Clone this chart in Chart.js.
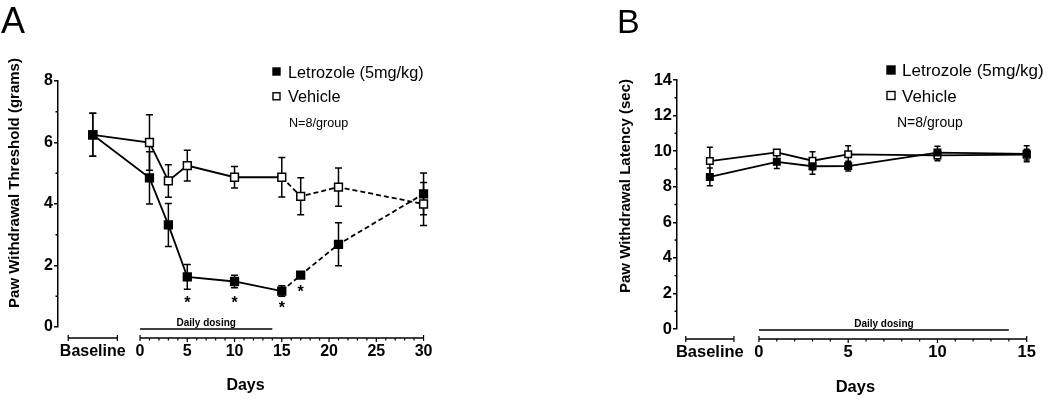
<!DOCTYPE html>
<html><head><meta charset="utf-8">
<script src="https://cdn.jsdelivr.net/npm/chart.js@4.4.1/dist/chart.umd.min.js"></script>
<style>
html,body{margin:0;padding:0;background:#fff;}
#wrap{position:relative;width:1050px;height:402px;overflow:hidden;background:#fff;}
canvas{position:absolute;top:0;}
#ca{left:0;} #cb{left:525px;}
</style></head><body>
<div id="wrap"><canvas id="ca" width="525" height="402"></canvas><canvas id="cb" width="525" height="402"></canvas></div>
<script>
const FONT = '"Liberation Sans", Arial, Helvetica, sans-serif';

// ---------- Panel A: Paw withdrawal threshold ----------
const baselinePosA = -5;              // axis position used for the "Baseline" point
const baselineSpanA = [-7.6, -2.4];   // extent of the baseline bar (axis units)
const daysA = [1, 3, 5, 10, 15, 17, 21, 30];
const letrozoleA    = [6.25, 4.85, 3.32, 1.63, 1.48, 1.17, 1.69, 2.69, 4.33];
const letrozoleErrA = [0.70, 0.85, 0.70, 0.40, 0.20, 0.17, 0.05, 0.70, 0.68];
const vehicleA      = [6.25, 6.00, 4.75, 5.25, 4.87, 4.87, 4.25, 4.55, 4.00];
const vehicleErrA   = [0.70, 0.90, 0.53, 0.50, 0.35, 0.64, 0.60, 0.62, 0.70];
const sigDaysA = [5, 10, 15, 17];
const sigYA    = [0.91, 0.91, 0.73, 1.24];
const dashedFromA = 15;
const xTicksA = [0, 5, 10, 15, 20, 25, 30];
const yTicksA = [0, 2, 4, 6, 8];
const yMinorA = [1, 3, 5, 7];

// ---------- Panel B: Paw withdrawal latency ----------
const baselinePosB = -2.75;
const baselineSpanB = [-4.1, -1.4];
const daysB = [1, 3, 5, 10, 15];
const letrozoleB    = [8.55, 9.40, 9.15, 9.16, 9.92, 9.85];
const letrozoleErrB = [0.50, 0.37, 0.45, 0.27, 0.35, 0.45];
const vehicleB      = [9.44, 9.93, 9.46, 9.82, 9.76, 9.80];
const vehicleErrB   = [0.78, 0.10, 0.50, 0.48, 0.30, 0.30];
const xTicksB = [0, 5, 10, 15];
const yTicksB = [0, 2, 4, 6, 8, 10, 12, 14];
const yMinorB = [1, 3, 5, 7, 9, 11, 13];

const dosingDays = [0, 14];
const seriesNames = ['Letrozole (5mg/kg)', 'Vehicle'];
const groupNote = 'N=8/group';

function centerText(ctx, text, x, cy, align) {
  ctx.textAlign = align || 'left';
  ctx.textBaseline = 'alphabetic';
  const m = ctx.measureText('H');
  ctx.fillText(text, x, cy + m.actualBoundingBoxAscent / 2);
}

const decor = {
  id: 'decor',
  beforeDatasetsDraw(chart, args, o) {
    const ctx = chart.ctx, xs = chart.scales.x, ys = chart.scales.y;
    ctx.save();
    ctx.strokeStyle = '#000';
    ctx.lineWidth = o.errWidth;
    chart.data.datasets.forEach(ds => {
      ds.data.forEach((p, i) => {
        const e = ds.errors[i];
        const px = xs.getPixelForValue(p.x);
        const y1 = ys.getPixelForValue(p.y + e), y2 = ys.getPixelForValue(p.y - e);
        ctx.beginPath();
        ctx.moveTo(px, y1); ctx.lineTo(px, y2);
        ctx.moveTo(px - o.cap, y1); ctx.lineTo(px + o.cap, y1);
        ctx.moveTo(px - o.cap, y2); ctx.lineTo(px + o.cap, y2);
        ctx.stroke();
      });
    });
    ctx.restore();
  },
  afterDraw(chart, args, o) {
    const ctx = chart.ctx, xs = chart.scales.x, ys = chart.scales.y, a = chart.chartArea;
    ctx.save();
    ctx.strokeStyle = '#000'; ctx.fillStyle = '#000';
    ctx.lineWidth = 1.5;
    // minor y ticks
    o.yMinor.forEach(v => {
      const py = ys.getPixelForValue(v);
      ctx.beginPath(); ctx.moveTo(a.left - 2.5, py); ctx.lineTo(a.left, py); ctx.stroke();
    });
    // day axis
    const y0 = a.bottom + o.axisOffset;
    const d0 = o.xTicks[0], d1 = o.xTicks[o.xTicks.length - 1];
    const p0 = xs.getPixelForValue(d0), p1 = xs.getPixelForValue(d1);
    ctx.beginPath(); ctx.moveTo(p0, y0); ctx.lineTo(p1, y0); ctx.stroke();
    ctx.lineWidth = 1.2;
    for (let d = d0; d <= d1; d++) {
      const px = xs.getPixelForValue(d);
      ctx.beginPath();
      if (d === d0 || d === d1) { ctx.moveTo(px, y0 - 3); ctx.lineTo(px, y0 + 3); }
      else if (d % 5 === 0) { ctx.moveTo(px, y0); ctx.lineTo(px, y0 + 4); }
      else { ctx.moveTo(px, y0); ctx.lineTo(px, y0 + 2.5); }
      ctx.stroke();
    }
    // baseline bar
    ctx.lineWidth = 1.5;
    const b0 = xs.getPixelForValue(o.baseSpan[0]), b1 = xs.getPixelForValue(o.baseSpan[1]);
    ctx.beginPath(); ctx.moveTo(b0, y0); ctx.lineTo(b1, y0); ctx.stroke();
    ctx.lineWidth = 1.2;
    ctx.beginPath();
    ctx.moveTo(b0, y0 - 3); ctx.lineTo(b0, y0 + 3);
    ctx.moveTo(b1, y0 - 3); ctx.lineTo(b1, y0 + 3);
    ctx.stroke();
    // daily dosing bar
    ctx.lineWidth = 1.5;
    const s0 = xs.getPixelForValue(dosingDays[0]), s1 = xs.getPixelForValue(dosingDays[1]);
    const yd = a.bottom + o.doseOffset;
    ctx.beginPath(); ctx.moveTo(s0, yd); ctx.lineTo(s1, yd); ctx.stroke();
    ctx.font = 'bold 10px ' + FONT;
    centerText(ctx, 'Daily dosing', (s0 + s1) / 2, a.bottom + o.doseTextOffset, 'center');
    // significance asterisks
    if (o.sigDays) {
      ctx.font = 'bold 16px ' + FONT;
      ctx.textAlign = 'center'; ctx.textBaseline = 'alphabetic';
      const m = ctx.measureText('*');
      const off = (m.actualBoundingBoxAscent - m.actualBoundingBoxDescent) / 2;
      o.sigDays.forEach((d, i) => {
        ctx.fillText('*', xs.getPixelForValue(d), ys.getPixelForValue(o.sigY[i]) + off);
      });
    }
    // legend
    const L = o.legend;
    chart.data.datasets.forEach((ds, i) => {
      const cy = L.y + i * L.dy;
      const s = L.size;
      ctx.lineWidth = 1.4;
      ctx.fillStyle = ds.pointBackgroundColor;
      ctx.fillRect(L.mx - s / 2, cy - s / 2, s, s);
      ctx.strokeRect(L.mx - s / 2, cy - s / 2, s, s);
      ctx.fillStyle = '#000';
      ctx.font = L.font + 'px ' + FONT;
      centerText(ctx, ds.label, L.tx, cy, 'left');
    });
    ctx.font = L.nFont + 'px ' + FONT;
    centerText(ctx, groupNote, L.nx, L.ny, 'left');
    // y title (rotated)
    ctx.save();
    ctx.translate(o.yTitle.x, o.yTitle.y);
    ctx.rotate(-Math.PI / 2);
    ctx.font = 'bold ' + o.yTitle.size + 'px ' + FONT;
    ctx.textAlign = 'center'; ctx.textBaseline = 'alphabetic';
    ctx.fillText(o.yTitle.text, 0, 0);
    ctx.restore();
    // panel letter
    ctx.font = o.letter.size + 'px ' + FONT;
    ctx.textAlign = 'left'; ctx.textBaseline = 'alphabetic';
    ctx.fillText(o.letter.text, o.letter.x, o.letter.y);
    ctx.restore();
  }
};

function makeChart(id, c) {
  const xs = [c.basePos, ...c.days];
  const pts = vals => xs.map((x, i) => ({ x: x, y: vals[i] }));
  const common = {
    showLine: true, borderColor: '#000', pointBorderColor: '#000',
    pointStyle: 'rect', pointRadius: c.r, pointHoverRadius: c.r, pointBorderWidth: 1.5,
    borderWidth: c.lw, clip: false,
    segment: { borderDash: s => (c.dashFrom !== null && s.p0.parsed.x >= c.dashFrom) ? [5, 3] : undefined }
  };
  const tickFont = { family: FONT, size: c.tickSize, weight: 'bold' };
  return new Chart(document.getElementById(id), {
    type: 'scatter',
    data: {
      datasets: [
        Object.assign({ label: seriesNames[0], data: pts(c.let), errors: c.letErr,
          backgroundColor: '#000', pointBackgroundColor: '#000' }, common),
        Object.assign({ label: seriesNames[1], data: pts(c.veh), errors: c.vehErr,
          backgroundColor: '#fff', pointBackgroundColor: '#fff' }, common)
      ]
    },
    options: {
      responsive: false, animation: false, devicePixelRatio: 1,
      events: [],
      layout: { padding: { top: c.top, right: c.right, bottom: 0, left: 0 } },
      plugins: {
        legend: { display: false }, tooltip: { enabled: false },
        decor: c.decor
      },
      scales: {
        x: {
          type: 'linear', min: c.xmin, max: c.xmax,
          grid: { display: false, drawTicks: false },
          border: { display: false },
          afterFit: s => { s.height = c.xh; },
          afterBuildTicks: s => { s.ticks = [c.basePos, ...c.xTicks].map(v => ({ value: v })); },
          ticks: {
            autoSkip: false, maxRotation: 0, minRotation: 0, padding: c.xpad, color: '#000', font: tickFont,
            callback: v => v === c.basePos ? 'Baseline' : String(v)
          },
          title: { display: true, text: 'Days', color: '#000', font: tickFont,
                   padding: { top: 0, bottom: c.titlePad } }
        },
        y: {
          min: 0, max: c.ymax,
          afterFit: s => { s.width = c.yw; },
          afterBuildTicks: s => { s.ticks = c.yTicks.map(v => ({ value: v })); },
          grid: { display: true, drawOnChartArea: false, drawTicks: true, tickLength: 4,
                  color: '#000', lineWidth: 1.5 },
          border: { display: true, color: '#000', width: 1.5 },
          ticks: { color: '#000', padding: 1, font: tickFont }
        }
      }
    },
    plugins: [decor]
  });
}

makeChart('ca', {
  basePos: baselinePosA, days: daysA, let: letrozoleA, letErr: letrozoleErrA,
  veh: vehicleA, vehErr: vehicleErrA, dashFrom: dashedFromA,
  xTicks: xTicksA, yTicks: yTicksA, ymax: 8,
  xmin: -8.68, xmax: 31, top: 81, right: 92, xh: 75, yw: 58,
  xpad: 15, titlePad: 7, tickSize: 16, r: 5.5, lw: 1.8,
  decor: {
    errWidth: 1.5, cap: 3.5, yMinor: yMinorA, xTicks: xTicksA, baseSpan: baselineSpanA,
    axisOffset: 11, doseOffset: 2, doseTextOffset: -5,
    sigDays: sigDaysA, sigY: sigYA,
    legend: { mx: 276.5, tx: 288, y: 71.5, dy: 24.8, size: 7, font: 16.3, nx: 289, ny: 122, nFont: 12.6 },
    yTitle: { text: 'Paw Withdrawal Threshold (grams)', x: 19, y: 183, size: 15 },
    letter: { text: 'A', x: 1, y: 33, size: 36 }
  }
});

makeChart('cb', {
  basePos: baselinePosB, days: daysB, let: letrozoleB, letErr: letrozoleErrB,
  veh: vehicleB, vehErr: vehicleErrB, dashFrom: null,
  xTicks: xTicksB, yTicks: yTicksB, ymax: 14,
  xmin: -4.59, xmax: 15.4, top: 80, right: 2.6, xh: 73, yw: 152,
  xpad: 14, titlePad: 4.5, tickSize: 16.5, r: 4.6, lw: 1.8,
  decor: {
    errWidth: 1.5, cap: 3, yMinor: yMinorB, xTicks: xTicksB, baseSpan: baselineSpanB,
    axisOffset: 10, doseOffset: 1, doseTextOffset: -6,
    sigDays: null, sigY: null,
    legend: { mx: 366, tx: 377, y: 70, dy: 25.5, size: 8, font: 17, nx: 372, ny: 122, nFont: 14 },
    yTitle: { text: 'Paw Withdrawal Latency (sec)', x: 105, y: 186, size: 15 },
    letter: { text: 'B', x: 92, y: 33, size: 34 }
  }
});
</script>
</body></html>
